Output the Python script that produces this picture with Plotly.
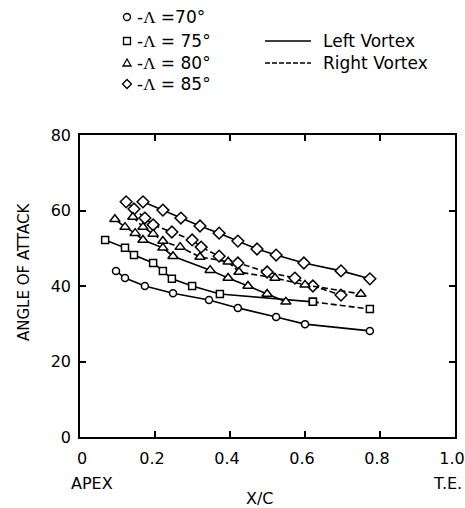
import plotly.graph_objects as go

# ---- data ----
x70 = [0.096, 0.120, 0.173, 0.248, 0.344, 0.421, 0.523, 0.600, 0.773]
y70 = [44.0, 42.1, 40.0, 38.1, 36.3, 34.2, 31.8, 29.9, 28.1]

x75_left = [0.067, 0.120, 0.144, 0.195, 0.221, 0.245, 0.299, 0.373, 0.621]
y75_left = [52.2, 50.1, 48.2, 46.1, 44.0, 41.9, 40.0, 37.9, 35.8]
x75_right = [0.621, 0.773]
y75_right = [35.8, 33.9]

x80_left = [0.093, 0.120, 0.147, 0.168, 0.221, 0.248, 0.347, 0.395, 0.448, 0.499, 0.549]
y80_left = [57.7, 55.6, 54.0, 52.2, 50.1, 47.9, 44.2, 42.1, 40.0, 37.9, 35.8]
x80_right = [0.141, 0.168, 0.195, 0.221, 0.267, 0.320, 0.395, 0.424, 0.520, 0.600, 0.749]
y80_right = [58.3, 55.6, 53.8, 51.9, 50.3, 47.7, 46.4, 43.7, 42.1, 40.3, 37.9]

x85_left = [0.168, 0.221, 0.269, 0.320, 0.371, 0.421, 0.472, 0.523, 0.597, 0.696, 0.773]
y85_left = [62.3, 60.1, 58.0, 55.9, 54.0, 51.9, 49.8, 48.2, 46.1, 44.0, 41.9]
x85_right = [0.123, 0.144, 0.173, 0.195, 0.245, 0.299, 0.323, 0.371, 0.421, 0.499, 0.573, 0.621, 0.696]
y85_right = [62.3, 60.4, 58.0, 56.2, 54.3, 52.2, 50.3, 47.9, 46.1, 43.7, 42.1, 40.0, 37.6]

x_ticks = [0, 0.2, 0.4, 0.6, 0.8, 1.0]
x_ticktext = ["\u00a0\u00a00", "0.2", "0.4", "0.6", "0.8", "1.0"]
y_ticks = [0, 20, 40, 60, 80]

sweep_labels = ["70°", "75°", "80°", "85°"]

# ---- layout geometry ----
W, H = 465, 508
ML, MR, MT, MB = 80, 10, 135, 71
PW, PH = W - ML - MR, H - MT - MB


def pxx(x):
    return (x - ML) / PW


def pxy(y):
    return (H - MB - y) / PH


FONT = "DejaVu Sans, Verdana, sans-serif"
SOLID = "solid"
DASH = "6px,3px"

fig = go.Figure()


def add(x, y, symbol, size, dash):
    fig.add_trace(go.Scatter(
        x=x, y=y, mode="lines+markers",
        line=dict(color="black", width=1.6, dash=dash),
        marker=dict(symbol=symbol, size=size, color="white",
                    line=dict(color="black", width=1.5)),
        showlegend=False, hoverinfo="skip"))


add(x85_right, y85_right, "diamond", 9, DASH)
add(x80_right, y80_right, "triangle-up", 9, DASH)
add(x75_right, y75_right, "square", 7, DASH)
add(x70, y70, "circle", 7, SOLID)
add(x75_left, y75_left, "square", 7, SOLID)
add(x80_left, y80_left, "triangle-up", 9, SOLID)
add(x85_left, y85_left, "diamond", 9, SOLID)

axis_common = dict(showline=True, linecolor="black", linewidth=1.6, mirror="ticks",
                   ticks="inside", ticklen=6, tickwidth=1.5, tickcolor="black",
                   showgrid=False, zeroline=False, automargin=False,
                   tickfont=dict(family=FONT, size=16, color="black"))

fig.update_layout(
    width=W, height=H,
    margin=dict(l=ML, r=MR, t=MT, b=MB, autoexpand=False),
    paper_bgcolor="white", plot_bgcolor="white",
    xaxis=dict(range=[0, 1], tickvals=x_ticks, ticktext=x_ticktext,
               ticklabelstandoff=6, ticklabelshift=-3, ticklabeloverflow="allow",
               **axis_common),
    yaxis=dict(range=[0, 80], tickvals=y_ticks, ticklabelstandoff=4, **axis_common),
)

ann = []
# axis titles
ann.append(dict(text="ANGLE OF ATTACK", x=pxx(24), y=pxy(272), textangle=-90,
                font=dict(family=FONT, size=15, color="black")))
ann.append(dict(text="X/C", x=pxx(260), y=pxy(498),
                font=dict(family=FONT, size=16, color="black")))
ann.append(dict(text="APEX", x=pxx(92), y=pxy(483),
                font=dict(family=FONT, size=16, color="black")))
ann.append(dict(text="T.E.", x=pxx(447), y=pxy(483),
                font=dict(family=FONT, size=16, color="black")))

# sweep legend
leg_y = [17, 41, 63, 84]
spacing = ["", " ", " ", " "]
for lab, yy, sp in zip(sweep_labels, leg_y, spacing):
    ann.append(dict(
        text='-<span style="font-family:Liberation Serif">Λ</span> =' + sp + lab,
        x=pxx(135), y=pxy(yy), xanchor="left",
        font=dict(family=FONT, size=17, color="black")))

ann.append(dict(text="Left Vortex", x=pxx(321), y=pxy(41), xanchor="left",
                font=dict(family=FONT, size=17, color="black")))
ann.append(dict(text="Right Vortex", x=pxx(321), y=pxy(63), xanchor="left",
                font=dict(family=FONT, size=17, color="black")))

for a in ann:
    a.update(xref="paper", yref="paper", showarrow=False)
    a.setdefault("xanchor", "center")
    a.setdefault("yanchor", "middle")

shapes = []
lw = dict(color="black", width=1.3)
# legend symbols
cx = 127
r = 3.5
shapes.append(dict(type="circle", x0=pxx(cx - r), x1=pxx(cx + r),
                   y0=pxy(17 + r), y1=pxy(17 - r), line=lw))
shapes.append(dict(type="rect", x0=pxx(cx - r), x1=pxx(cx + r),
                   y0=pxy(41 + r), y1=pxy(41 - r), line=lw))
tri = [(cx - 4, 66), (cx + 4, 66), (cx, 59)]
shapes.append(dict(type="path", line=lw,
                   path="M {} {} L {} {} L {} {} Z".format(
                       pxx(tri[0][0]), pxy(tri[0][1]), pxx(tri[1][0]), pxy(tri[1][1]),
                       pxx(tri[2][0]), pxy(tri[2][1]))))
dia = [(cx - 4.5, 84), (cx, 79.5), (cx + 4.5, 84), (cx, 88.5)]
shapes.append(dict(type="path", line=lw,
                   path="M {} {} L {} {} L {} {} L {} {} Z".format(
                       pxx(dia[0][0]), pxy(dia[0][1]), pxx(dia[1][0]), pxy(dia[1][1]),
                       pxx(dia[2][0]), pxy(dia[2][1]), pxx(dia[3][0]), pxy(dia[3][1]))))
# line-style legend
shapes.append(dict(type="line", x0=pxx(265), x1=pxx(311), y0=pxy(41), y1=pxy(41),
                   line=dict(color="black", width=1.4)))
shapes.append(dict(type="line", x0=pxx(265), x1=pxx(311), y0=pxy(63), y1=pxy(63),
                   line=dict(color="black", width=1.4, dash="5px,2px")))
for s in shapes:
    s.update(xref="paper", yref="paper")

fig.update_layout(annotations=ann, shapes=shapes)

fig.write_html("out.html")
